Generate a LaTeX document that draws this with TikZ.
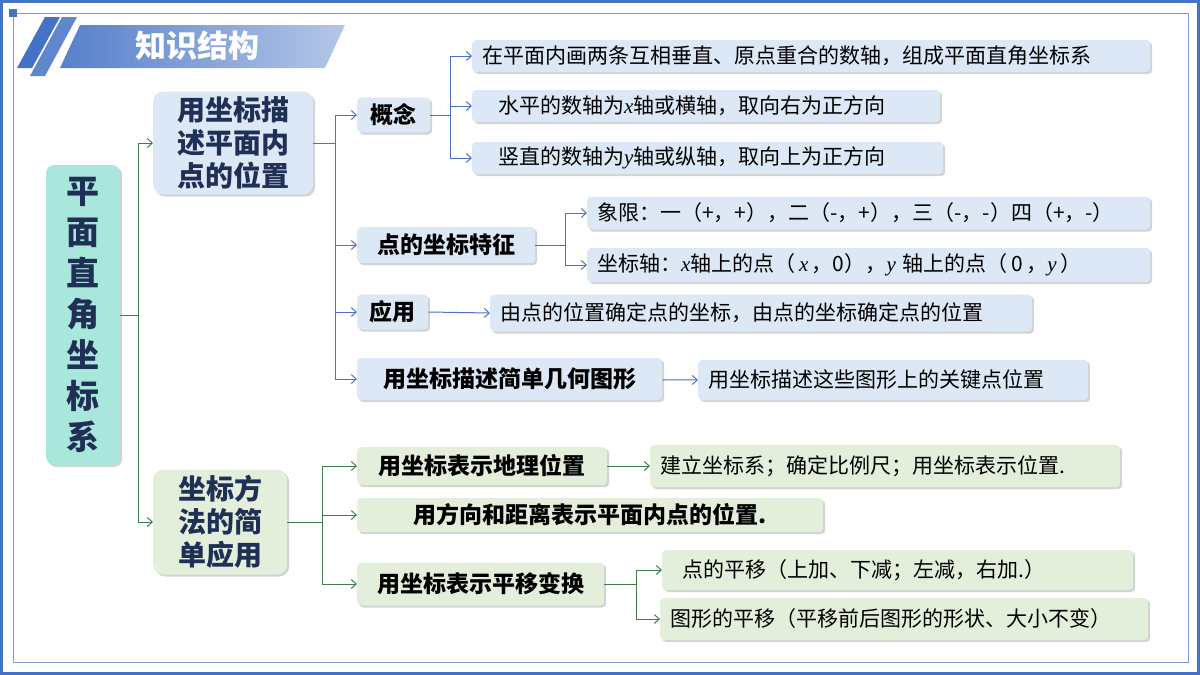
\documentclass[tikz,border=0pt]{standalone}
\usepackage{fontspec}
\setmainfont{Noto Sans CJK SC}
\newfontfamily\varfont{Liberation Serif}
\newcommand{\vx}[1]{{\varfont\itshape #1}}
\usetikzlibrary{arrows.meta,shadows,positioning}
\definecolor{frameblue}{HTML}{4472C4}
\definecolor{lineblue}{HTML}{4A72C0}
\definecolor{linegreen}{HTML}{3E7E4C}
\definecolor{rootfill}{HTML}{A9E6DB}
\definecolor{bluefill}{HTML}{DCE8F5}
\definecolor{greenfill}{HTML}{E3EFDA}
\definecolor{navy}{HTML}{1F2F55}
\tikzset{
  box/.style={rounded corners=4pt, drop shadow={shadow xshift=2pt,shadow yshift=-2pt,opacity=.35},
              inner sep=0pt, anchor=west},
  root/.style={box, fill=rootfill, rounded corners=8pt, font=\fontsize{33}{41}\selectfont\bfseries,
               text=navy, align=center},
  topic/.style={box, rounded corners=10pt, font=\fontsize{28}{33}\selectfont\bfseries, text=navy, align=center},
  sub/.style={box, font=\fontsize{23}{26}\selectfont\bfseries},
  leaf/.style={box, inner xsep=10pt, align=left, font=\fontsize{21}{24}\selectfont},
  bl/.style={draw=lineblue, line width=1pt},
  gl/.style={draw=linegreen, line width=1pt},
  tip/.style={-{Straight Barb[length=5pt,width=9pt]}},
}
\begin{document}
\begin{tikzpicture}[x=1pt,y=-1pt]
  \useasboundingbox (0,0) rectangle (1200,675);
  % frame
  \draw[frameblue, line width=3pt] (1.5,1.5) rectangle (1198.5,673.5);
  \draw[frameblue!70, line width=0.8pt] (13,13) -- (1188,13) -- (1188,662) -- (13,662) -- cycle;
  \fill[frameblue] (9,9) rectangle (17,17);
  % title
  \shade[left color=frameblue!90, right color=frameblue!40]
    (60,68) -- (80,25) -- (345,25) -- (325,68) -- cycle;
  \fill[frameblue] (17,68) -- (45,17) -- (60,17) -- (32,68) -- cycle;
  \fill[frameblue!85] (30,76) -- (62,17) -- (77,17) -- (45,76) -- cycle;
  \node[font=\fontsize{31}{33}\selectfont\bfseries, text=white] (title) at (197,46) {知识结构};

  % nodes
  \node[root, minimum width=74, minimum height=300] (R) at (46,315)
    {平\\面\\直\\角\\坐\\标\\系};
  \node[topic, fill=bluefill, minimum width=160, minimum height=103] (A) at (153,143)
    {用坐标描\\述平面内\\点的位置};
  \node[topic, fill=greenfill, minimum width=134, minimum height=105] (B) at (153,522)
    {坐标方\\法的简\\单应用};

  \node[sub, fill=bluefill, minimum width=73, minimum height=35] (A1) at (357,115) {概念};
  \node[sub, fill=bluefill, minimum width=178, minimum height=36] (A2) at (357,245) {点的坐标特征};
  \node[sub, fill=bluefill, minimum width=71, minimum height=35] (A3) at (357,312) {应用};
  \node[sub, fill=bluefill, minimum width=305, minimum height=42] (A4) at (357,379) {用坐标描述简单几何图形};

  \node[leaf, fill=bluefill, minimum height=32, text width=658] (L1) at (472,56) {在平面内画两条互相垂直、原点重合的数轴，组成平面直角坐标系};
  \node[leaf, fill=bluefill, minimum height=32, inner xsep=26pt, text width=416] (L2) at (472,106) {水平的数轴为\vx{x}轴或横轴，取向右为正方向};
  \node[leaf, fill=bluefill, minimum height=32, inner xsep=26pt, text width=419] (L3) at (472,158) {竖直的数轴为\vx{y}轴或纵轴，取向上为正方向};
  \node[leaf, fill=bluefill, minimum height=33, text width=543] (L4) at (587,213) {象限：一（+，+），二（-，+），三（-，-）四（+，-）};
  \node[leaf, fill=bluefill, minimum height=34, text width=543] (L5) at (587,265) {坐标轴：\vx{x}轴上的点（\,\vx{x}\,，0），\vx{y} 轴上的点（\,0\,，\vx{y}\,）};
  \node[leaf, fill=bluefill, minimum height=37, text width=522] (L6) at (490,313) {由点的位置确定点的坐标，由点的坐标确定点的位置};
  \node[leaf, fill=bluefill, minimum height=40, text width=370] (L7) at (698,380) {用坐标描述这些图形上的关键点位置};

  \node[sub, fill=greenfill, minimum width=250, minimum height=38] (B1) at (357,466) {用坐标表示地理位置};
  \node[sub, fill=greenfill, minimum width=466, minimum height=34] (B2) at (357,515) {用方向和距离表示平面内点的位置.\hspace{60pt}};
  \node[sub, fill=greenfill, minimum width=247, minimum height=43] (B3) at (357,584) {用坐标表示平移变换};
  \node[leaf, fill=greenfill, minimum height=42, text width=450] (M1) at (650,466) {建立坐标系；确定比例尺；用坐标表示位置.};
  \node[leaf, fill=greenfill, minimum height=40, inner xsep=20pt, text width=431] (M2) at (662,570) {点的平移（上加、下减；左减，右加.）};
  \node[leaf, fill=greenfill, minimum height=42, text width=468] (M3) at (660,619) {图形的平移（平移前后图形的形状、大小不变）};

  % connectors
  \path[gl] (R.east) -- ++(18,0) coordinate (r);
  \draw[gl, tip] (r) |- (A.west);
  \draw[gl, tip] (r) |- (B.west);

  \path[bl] (A.east) -- ++(22,0) coordinate (a);
  \foreach \n in {A1,A2,A3,A4} \draw[bl, tip] (a) |- (\n.west);
  \path[bl] (A1.east) -- ++(20,0) coordinate (a1);
  \foreach \n in {L1,L2,L3} \draw[bl, tip] (a1) |- (\n.west);
  \path[bl] (A2.east) -- ++(30,0) coordinate (a2);
  \foreach \n in {L4,L5} \draw[bl, tip] (a2) |- (\n.west);
  \draw[bl, tip] (A3.east) -- (L6.west);
  \draw[bl, tip] (A4) -- (L7.west);

  \path[gl] (B.east) -- ++(35,0) coordinate (b);
  \foreach \n in {B1,B2,B3} \draw[gl, tip] (b) |- (\n.west);
  \draw[gl, tip] (B1.east) -- (M1.west);
  \path[gl] (B3.east) -- ++(32,0) coordinate (b3);
  \foreach \n in {M2,M3} \draw[gl, tip] (b3) |- (\n.west);
\end{tikzpicture}
\end{document}
